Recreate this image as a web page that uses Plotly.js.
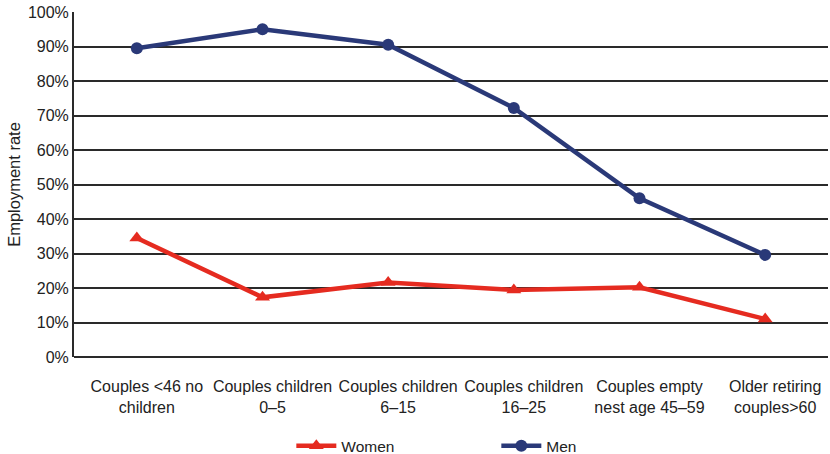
<!DOCTYPE html>
<html>
<head>
<meta charset="utf-8">
<script src="https://cdn.plot.ly/plotly-3.0.1.min.js"></script>
<style>html,body{margin:0;padding:0;background:#fff;}#chart{width:830px;height:454px;}</style>
</head>
<body>
<div id="chart"></div>
<script>
// Household types along the x axis
const categories = [
  "Couples <46 no<br>children",
  "Couples children<br>0–5",
  "Couples children<br>6–15",
  "Couples children<br>16–25",
  "Couples empty<br>nest age 45–59",
  "Older retiring<br>couples>60"
];
// Employment rate (%) by household type
const women = [34.5, 17.3, 21.6, 19.4, 20.2, 11.0];
const men = [89.5, 95, 90.5, 72.2, 46, 29.6];
const yTicks = [0, 10, 20, 30, 40, 50, 60, 70, 80, 90, 100];

const FONT = "'Liberation Sans', Arial, sans-serif";

const traces = [
  {
    x: categories, y: women, name: "Women", type: "scatter", mode: "lines+markers",
    line: {color: "#e52b20", width: 4.5},
    marker: {symbol: "triangle-up", size: 13, color: "#e52b20"}
  },
  {
    x: categories, y: men, name: "Men", type: "scatter", mode: "lines+markers",
    line: {color: "#2a3978", width: 4.5},
    marker: {symbol: "circle", size: 12, color: "#2a3978"}
  }
];

const layout = {
  width: 830, height: 454,
  margin: {l: 74, r: 2, t: 12, b: 97},
  paper_bgcolor: "#fff", plot_bgcolor: "#fff",
  font: {family: FONT, size: 16, color: "#222"},
  showlegend: true,
  legend: {
    orientation: "h", xref: "container", yref: "container",
    x: 0.351, xanchor: "left", y: 0.017, yanchor: "middle",
    font: {family: FONT, size: 15.5, color: "#222"},
    entrywidth: 150, entrywidthmode: "pixels", itemwidth: 40
  },
  xaxis: {
    type: "category", range: [-0.5, 5.5],
    showgrid: false, zeroline: false,
    showline: false, ticks: "", automargin: false,
    ticklabelstandoff: 18, ticklabelshift: 10,
    tickfont: {family: FONT, size: 16, color: "#222"},
    fixedrange: true
  },
  yaxis: {
    range: [0, 100], tickvals: yTicks, ticktext: yTicks.map(v => v + "%"),
    showgrid: true, gridcolor: "#2a2a2a", gridwidth: 2,
    zeroline: true, zerolinecolor: "#2a2a2a", zerolinewidth: 2,
    showline: true, linecolor: "#2a2a2a", linewidth: 2, mirror: false,
    ticks: "", ticklen: 0, automargin: false,
    tickfont: {family: FONT, size: 16, color: "#222"},
    title: {text: "Employment rate", font: {family: FONT, size: 16.5, color: "#222"}, standoff: 3},
    fixedrange: true
  }
};

Plotly.newPlot("chart", traces, layout, {displayModeBar: false, staticPlot: true});
</script>
</body>
</html>
